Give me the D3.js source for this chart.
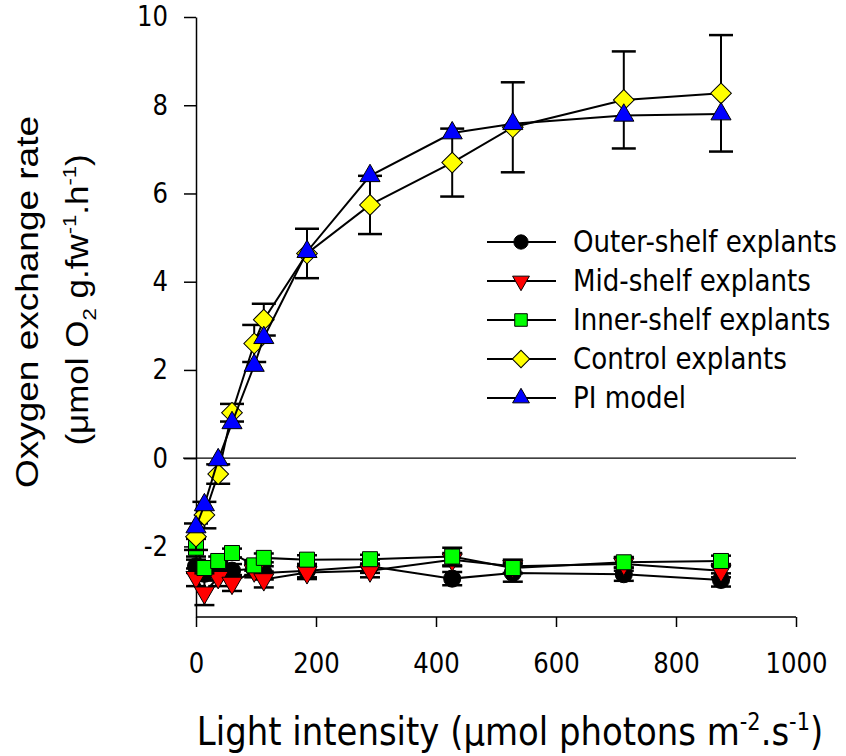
<!DOCTYPE html>
<html>
<head>
<meta charset="utf-8">
<script src="https://cdn.jsdelivr.net/npm/d3@7"></script>
<style>
  body { margin: 0; background: #fff; }
  svg { display: block; }
</style>
</head>
<body>
<svg id="chart"></svg>
<script>
// ---- data ----
let light = [0, 14, 37, 60, 97, 113, 185, 290, 427, 528, 713, 875]

let outerVals = [-2.45, -2.62, -2.5, -2.55, -2.5, -2.6, -2.55, -2.45, -2.73, -2.6, -2.63, -2.76]
let outerErr  = [0.15, 0.15, 0.15, 0.15, 0.15, 0.15, 0.15, 0.15, 0.15, 0.2, 0.15, 0.15]
let midVals   = [-2.7, -3.05, -2.7, -2.83, -2.55, -2.75, -2.59, -2.55, -2.3, -2.45, -2.4, -2.55]
let midErr    = [0.2, 0.28, 0.2, 0.18, 0.15, 0.18, 0.15, 0.15, 0.15, 0.15, 0.15, 0.15]
let innerVals = [-2.03, -2.49, -2.33, -2.15, -2.43, -2.26, -2.3, -2.29, -2.23, -2.49, -2.36, -2.33]
let innerErr  = [0.2, 0.12, 0.1, 0.1, 0.12, 0.1, 0.1, 0.1, 0.2, 0.12, 0.12, 0.12]
let controlVals = [-1.78, -1.29, -0.36, 1.03, 2.6, 3.14, 4.64, 5.74, 6.7, 7.5, 8.12, 8.27]
let controlErr  = [0.3, 0.3, 0.22, 0.2, 0.42, 0.36, 0.56, 0.66, 0.77, 1.02, 1.1, 1.32]
let piVals = [-1.56, -1.06, -0.04, 0.8, 2.1, 2.73, 4.68, 6.4, 7.37, 7.58, 7.77, 7.8]

let seriesNames = ['Outer-shelf explants', 'Mid-shelf explants', 'Inner-shelf explants', 'Control explants', 'PI model']
let seriesColors = ['#000000', '#ff0000', '#00ff00', '#ffff00', '#0000ff']
let xTicks = [0, 200, 400, 600, 800, 1000]
let yTicks = [-2, 0, 2, 4, 6, 8, 10]

let width = 846
let height = 756
let sx = 0.87   // Tahoma-like narrowing for text

let svg = d3.select('#chart').attr('width', width).attr('height', height)

let xScale = d3.scaleLinear().domain([0, 1000]).range([196, 796])
let yScale = d3.scaleLinear().domain([-3.6, 10]).range([617, 17])

let series = [
  {vals: outerVals, err: outerErr, shape: d3.symbolCircle, size: 230, rot: 0, cap: 10},
  {vals: midVals, err: midErr, shape: d3.symbolTriangle, size: 175, rot: 180, cap: 10},
  {vals: innerVals, err: innerErr, shape: d3.symbolSquare, size: 225, rot: 0, cap: 10},
  {vals: controlVals, err: controlErr, shape: d3.symbolSquare, size: 215, rot: 45, cap: 12},
  {vals: piVals, err: null, shape: d3.symbolTriangle, size: 175, rot: 0, cap: 12}
]
series.forEach((s, i) => { s.name = seriesNames[i]; s.color = seriesColors[i] })

// ---- axes ----
let xAxis = d3.axisBottom(xScale).tickValues(xTicks).tickSize(10).tickSizeOuter(0).tickPadding(26)
  .tickFormat(d3.format('d'))
let yAxis = d3.axisLeft(yScale).tickValues(yTicks).tickSize(12).tickSizeOuter(0).tickPadding(16)
  .tickFormat(d => d < 0 ? '-' + Math.abs(d) : d)

let gx = svg.append('g').attr('transform', 'translate(0,617)').call(xAxis)
let gy = svg.append('g').attr('transform', 'translate(196,0)').call(yAxis)

gx.select('.domain').attr('d', 'M196,0H796')
;[gx, gy].forEach(g => {
  g.selectAll('path, line').attr('stroke', '#000').attr('stroke-width', 1.5)
  g.selectAll('text').attr('fill', '#000')
    .style('font-family', "'DejaVu Sans', Verdana, sans-serif").style('font-size', '28px')
})
gx.selectAll('text').attr('transform', `scale(${sx},1)`)
gy.selectAll('text').attr('x', -28 / sx).attr('transform', `scale(${sx},1)`)

// zero line
svg.append('line')
  .attr('x1', 183).attr('x2', xScale(1000))
  .attr('y1', yScale(0)).attr('y2', yScale(0))
  .attr('stroke', '#000').attr('stroke-width', 1.2)

// ---- series ----
let line = d3.line().x(d => xScale(d[0])).y(d => yScale(d[1]))

series.forEach(s => {
  let pts = light.map((x, i) => [x, s.vals[i], s.err ? s.err[i] : 0])
  let g = svg.append('g')

  g.append('path').datum(pts).attr('d', line)
    .attr('fill', 'none').attr('stroke', '#000').attr('stroke-width', 2)

  if (s.err) {
    pts.forEach(p => {
      let cx = xScale(p[0])
      let y1 = yScale(p[1] + p[2]), y2 = yScale(p[1] - p[2])
      g.append('line').attr('x1', cx).attr('x2', cx).attr('y1', y1).attr('y2', y2)
        .attr('stroke', '#000').attr('stroke-width', 2)
      ;[y1, y2].forEach(yy => {
        g.append('line').attr('x1', cx - s.cap).attr('x2', cx + s.cap).attr('y1', yy).attr('y2', yy)
          .attr('stroke', '#000').attr('stroke-width', 2.5)
      })
    })
  }

  g.selectAll('path.pt').data(pts).enter().append('path')
    .attr('class', 'pt')
    .attr('d', d3.symbol().type(s.shape).size(s.size))
    .attr('transform', d => `translate(${xScale(d[0])},${yScale(d[1])}) rotate(${s.rot})`)
    .attr('fill', s.color).attr('stroke', '#000').attr('stroke-width', 1)
})

// ---- legend ----
let legendY = [242, 281, 320, 359, 398]
series.forEach((s, i) => {
  let ly = legendY[i]
  svg.append('line').attr('x1', 487).attr('x2', 556).attr('y1', ly).attr('y2', ly)
    .attr('stroke', '#000').attr('stroke-width', 2)
  svg.append('path')
    .attr('d', d3.symbol().type(s.shape).size(s.size * 0.7))
    .attr('transform', `translate(521,${ly}) rotate(${s.rot})`)
    .attr('fill', s.color).attr('stroke', '#000').attr('stroke-width', 1)
  svg.append('text')
    .attr('transform', `translate(573,${ly + 10}) scale(${sx},1)`)
    .style('font-family', "'DejaVu Sans', Verdana, sans-serif").style('font-size', '30px')
    .text(s.name)
})

// ---- axis titles ----
let xt = svg.append('text')
  .attr('transform', `translate(510,745) scale(${sx},1)`)
  .attr('text-anchor', 'middle')
  .style('font-family', "'DejaVu Sans', Verdana, sans-serif").style('font-size', '39px')
xt.append('tspan').text('Light intensity (\u03bcmol photons m')
xt.append('tspan').attr('dy', -15).style('font-size', '24px').text('-2')
xt.append('tspan').attr('dy', 15).text('.s')
xt.append('tspan').attr('dy', -15).style('font-size', '24px').text('-1')
xt.append('tspan').attr('dy', 15).text(')')

svg.append('text')
  .attr('transform', 'translate(38,302) scale(0.87,1) rotate(-90)')
  .attr('text-anchor', 'middle')
  .style('font-family', "'Liberation Sans', Arial, sans-serif").style('font-size', '37px')
  .text('Oxygen exchange rate')

let yt2 = svg.append('text')
  .attr('transform', 'translate(88,300) scale(0.87,1) rotate(-90)')
  .attr('text-anchor', 'middle')
  .style('font-family', "'Liberation Sans', Arial, sans-serif").style('font-size', '35px')
yt2.append('tspan').text('(\u03bcmol O')
yt2.append('tspan').attr('dy', 9).style('font-size', '22px').text('2')
yt2.append('tspan').attr('dy', -9).text(' g.fw')
yt2.append('tspan').attr('dy', -14).style('font-size', '22px').text('-1')
yt2.append('tspan').attr('dy', 14).text('.h')
yt2.append('tspan').attr('dy', -14).style('font-size', '22px').text('-1')
yt2.append('tspan').attr('dy', 14).text(')')
</script>
</body>
</html>
